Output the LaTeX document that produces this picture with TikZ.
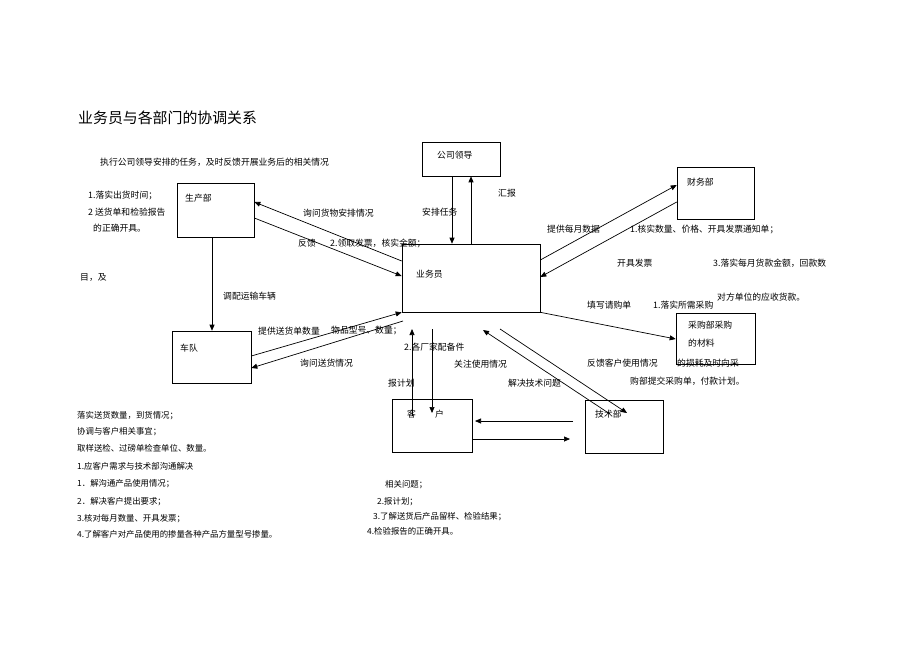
\documentclass[tikz,border=0pt]{standalone}
\usepackage{fontspec}
\newfontfamily\cjk{Noto Sans CJK SC}
\usetikzlibrary{arrows.meta}
\tikzset{
  box/.style={draw, line width=0.6pt, inner sep=0pt},
  arr/.style={line width=0.7pt, -{Triangle[length=6pt,width=5pt]}},
  txt/.style={anchor=west, inner sep=0pt, font=\cjk\fontsize{8.8}{10}\selectfont},
  note/.style={anchor=west, inner sep=0pt, font=\cjk\fontsize{8.4}{10}\selectfont},
}

\begin{document}
\begin{tikzpicture}[x=1pt,y=-1pt]
\fill[white] (0,0) rectangle (920,651);
\useasboundingbox (0,0) rectangle (920,651);
% titolo
\node[anchor=west, inner sep=0pt, font=\cjk\fontsize{14.9}{16}\selectfont] (titolo) at (78,118) {业务员与各部门的协调关系};
\node[txt] (compito) at (100,162) {执行公司领导安排的任务，及时反馈开展业务后的相关情况};
% riquadri
\node[box, minimum width=78, minimum height=34] (gsld) at (461,159) {};
\node[box, minimum width=77, minimum height=54] (scb) at (215.5,210) {};
\node[box, minimum width=77, minimum height=52] (cwb) at (715.5,193) {};
\node[box, minimum width=138, minimum height=68] (ywy) at (471,278) {};
\node[box, minimum width=79, minimum height=52] (cd) at (211.5,357) {};
\node[box, minimum width=79, minimum height=51] (cgb) at (715.5,338.5) {};
\node[box, minimum width=80, minimum height=53] (kh) at (432,425.5) {};
\node[box, minimum width=78, minimum height=53] (jsb) at (624,426.5) {};
% nomi dei riquadri
\node[txt] (gsld-t) at (437,155) {公司领导};
\node[txt] (scb-t) at (185,198) {生产部};
\node[txt] (cwb-t) at (687,182) {财务部};
\node[txt] (ywy-t) at (416,274) {业务员};
\node[txt] (cd-t) at (180,348) {车队};
\node[txt] (cgb-t1) at (688,325) {采购部采购};
\node[txt] (cgb-t2) at (688,343) {的材料};
\node[txt] (kh-t) at (407,414) {客\hspace{19pt}户};
\node[txt] (jsb-t) at (595,414) {技术部};
% estremi liberi
\coordinate (cd-in) at (403,321);
\coordinate (js-a) at (610,414);
\coordinate (js-b) at (483,330);
\coordinate (js-c) at (500,329);
\coordinate (js-d) at (627,413);
\coordinate (kh-a) at (412,416);
\coordinate (kh-b) at (412,329);
\coordinate (kh-c) at (432,329);
\coordinate (kh-d) at (432,413);
\coordinate (kj-a) at (573,421);
\coordinate (kj-b) at (475,421);
\coordinate (kj-c) at (473,439);
\coordinate (kj-d) at (570,439);
% frecce
\draw[arr] (gsld.south -| 452,0) -- (ywy.north -| 452,0);
\draw[arr] (ywy.north -| 471,0) -- (gsld.south -| 471,0);
\draw[arr] (ywy.west |- 0,261) -- (scb.east |- 0,202);
\draw[arr] (scb.east |- 0,218) -- (ywy.west |- 0,276);
\draw[arr] (scb.south -| 212,0) -- (cd.north -| 212,0);
\draw[arr] (cd.east |- 0,356) -- (ywy.south west);
\draw[arr] (cd-in) -- (cd.east |- 0,368);
\draw[arr] (ywy.south east) -- (cgb.west |- 0,339);
\draw[arr] (ywy.east |- 0,260) -- (cwb.west |- 0,185);
\draw[arr] (cwb.west |- 0,202) -- (ywy.east |- 0,277);
\draw[arr] (js-a) -- (js-b);
\draw[arr] (js-c) -- (js-d);
\draw[arr] (kh-a) -- (kh-b);
\draw[arr] (kh-c) -- (kh-d);
\draw[arr] (kj-a) -- (kj-b);
\draw[arr] (kj-c) -- (kj-d);
% etichette in alto
\node[txt] (sc1) at (88,195) {1.落实出货时间；};
\node[txt] (sc2) at (88,212) {2 送货单和检验报告};
\node[txt] (sc3) at (93,228) {的正确开具。};
\node[txt] (xw) at (303,213) {询问货物安排情况};
\node[txt] (ap) at (422,212) {安排任务};
\node[txt] (hb) at (498,193) {汇报};
\node[txt] (fk) at (298,243) {反馈};
\node[txt] (lq) at (330,243) {2.领取发票，核实金额；};
\node[txt] (tg) at (547,229) {提供每月数据};
\node[txt] (hs) at (630,229) {1.核实数量、价格、开具发票通知单；};
\node[txt] (kj) at (617,263) {开具发票};
\node[txt] (ls) at (713,263) {3.落实每月货款金额，回款数};
\node[txt] (ys) at (717,297) {对方单位的应收货款。};
\node[txt] (mj) at (80,278) {目，及};
\node[txt] (dp) at (223,296) {调配运输车辆};
% etichette in mezzo
\node[txt] (sl) at (258,331) {提供送货单数量};
\node[txt] (wp) at (331,331) {物品型号、数量；};
\node[txt] (xs) at (300,363) {询问送货情况};
\node[txt] (tx) at (587,305) {填写请购单};
\node[txt] (lx) at (653,305) {1.落实所需采购};
\node[txt] (fkk) at (587,363) {反馈客户使用情况};
\node[txt] (sh) at (677,363) {的损耗及时向采};
\node[txt] (tj) at (630,381) {购部提交采购单，付款计划。};
\node[txt] (cj) at (404,347) {2.各厂家配备件};
\node[txt] (gz) at (454,364) {关注使用情况};
\node[txt] (bj) at (388,383) {报计划};
\node[txt] (jj) at (508,383) {解决技术问题};
% elenco in basso
\node[note] (b1) at (77,416) {落实送货数量，到货情况；};
\node[note] (b2) at (77,432) {协调与客户相关事宜；};
\node[note] (b3) at (77,448) {取样送检、过磅单检查单位、数量。};
\node[note] (b4) at (77,466) {1.应客户需求与技术部沟通解决};
\node[note] (b5) at (77,484) {1．解沟通产品使用情况；};
\node[note] (b6) at (77,502) {2．解决客户提出要求；};
\node[note] (b7) at (77,519) {3.核对每月数量、开具发票；};
\node[note] (b8) at (77,534) {4.了解客户对产品使用的掺量各种产品方量型号掺量。};
\node[note] (r1) at (385,485) {相关问题；};
\node[note] (r2) at (377,502) {2.报计划；};
\node[note] (r3) at (373,517) {3.了解送货后产品留样、检验结果；};
\node[note] (r4) at (367,531) {4.检验报告的正确开具。};
\end{tikzpicture}
\end{document}
